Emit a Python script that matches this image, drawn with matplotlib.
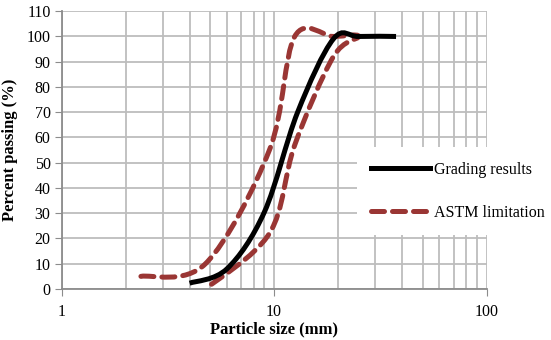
import numpy as np
import matplotlib
matplotlib.use('Agg')
import matplotlib.pyplot as plt
from matplotlib.path import Path
from matplotlib.patches import PathPatch
from matplotlib.lines import Line2D
from matplotlib.ticker import FixedLocator, NullFormatter, FixedFormatter

# Grading results (particle size mm, percent passing)
grading_size = [4.0, 6.0, 9.0, 12.9, 19.0, 25.0, 37.5]
grading_pass = [2.3, 8.0, 30.5, 70.0, 99.0, 100.0, 100.0]

# ASTM limitation band (upper limit out, lower limit back)
astm_size = [2.36, 4.75, 9.5, 12.5, 19.0, 25.0, 19.0, 12.5, 9.5, 4.75]
astm_pass = [5.0, 10.0, 55.0, 100.0, 100.0, 100.0, 92.0, 57.0, 22.0, 0.0]

x_ticks = [1, 10, 100]
x_tick_labels = ['1', '10', '100']
y_ticks = list(range(0, 111, 10))

plt.rcParams['font.family'] = ['Liberation Serif', 'DejaVu Serif']


# smoothed line like Excel (bezier through the points, log x)
def smooth_path(xs, ys):
    P = np.column_stack([np.log10(xs), np.asarray(ys, float)])
    n = len(P)
    verts = [P[0]]
    codes = [Path.MOVETO]
    for i in range(n - 1):
        p0 = P[i - 1] if i > 0 else P[i]
        p3 = P[i + 2] if i + 2 < n else P[i + 1]
        c1 = P[i] + (P[i + 1] - p0) / 6
        c2 = P[i + 1] - (p3 - P[i]) / 6
        verts += [c1, c2, P[i + 1]]
        codes += [Path.CURVE4] * 3
    V = np.array(verts)
    V[:, 0] = 10 ** V[:, 0]
    return Path(V, codes)


fig = plt.figure(figsize=(5.51, 3.4), dpi=100)
ax = fig.add_axes([0.112, 0.15, 0.771, 0.817])

ax.set_xscale('log')
ax.set_xlim(1, 100)
ax.set_ylim(0, 110)

ax.xaxis.set_major_locator(FixedLocator(x_ticks))
ax.xaxis.set_major_formatter(FixedFormatter(x_tick_labels))
ax.xaxis.set_minor_locator(FixedLocator([d * m for d in (1, 10) for m in range(2, 10)]))
ax.xaxis.set_minor_formatter(NullFormatter())
ax.set_yticks(y_ticks)

grid_c = '#BDBDBD'
ax.grid(True, which='both', axis='x', color=grid_c, lw=1.3)
ax.grid(True, which='major', axis='y', color=grid_c, lw=1.3)
ax.set_axisbelow(True)
for s in ['top', 'right']:
    ax.spines[s].set_visible(False)
for s in ['left', 'bottom']:
    ax.spines[s].set_color('#8C8C8C')
    ax.spines[s].set_linewidth(1.3)
ax.tick_params(axis='both', which='major', direction='out', length=5, color='#8C8C8C',
               labelsize=11.5)
ax.tick_params(axis='x', which='major', pad=6)
ax.tick_params(axis='y', which='major', pad=3)
ax.tick_params(axis='x', which='minor', length=0)

black_line = PathPatch(smooth_path(grading_size, grading_pass), fill=False,
                       edgecolor='black', lw=3.6, capstyle='butt', zorder=3)
red_c = '#9A3634'
red_line = PathPatch(smooth_path(astm_size, astm_pass), fill=False,
                     edgecolor=red_c, lw=3.6, linestyle=(0, (2.6, 1.6)),
                     capstyle='round', zorder=2)
ax.add_patch(red_line)
ax.add_patch(black_line)

ax.set_xlabel('Particle size (mm)', fontsize=12, fontweight='bold', labelpad=1)
ax.set_ylabel('Percent passing (%)', fontsize=12, fontweight='bold', labelpad=6)

handles = [Line2D([], [], color='black', lw=3.6),
           Line2D([], [], color=red_c, lw=3.6, linestyle=(0, (2.6, 1.6)),
                  dash_capstyle='round')]
leg = ax.legend(handles, ['Grading results', 'ASTM limitation'],
                loc='upper left', bbox_to_anchor=(0.695, 0.51),
                fontsize=11.5, frameon=True, fancybox=False,
                handlelength=3.7, handletextpad=0.2, labelspacing=1.7,
                borderaxespad=0, borderpad=0.9)
leg.get_frame().set_facecolor('white')
leg.get_frame().set_edgecolor('none')
leg.get_frame().set_alpha(1)

fig.savefig('out.png', dpi=100)
